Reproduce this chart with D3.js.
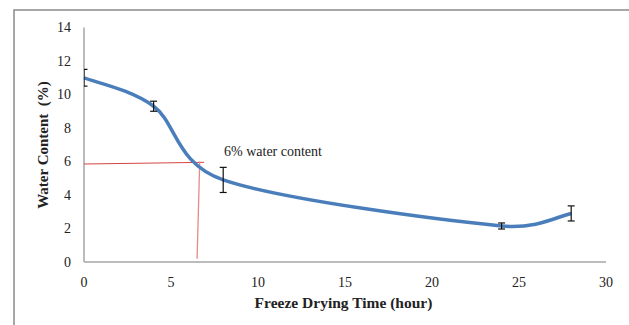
<!DOCTYPE html>
<html>
<head>
<meta charset="utf-8">
<script src="https://cdn.jsdelivr.net/npm/d3@7"></script>
<style>
  body { margin: 0; background: #fff; }
  svg { display: block; }
</style>
</head>
<body>
<script>
const width = 629, height = 325

// values
const hours = [0, 4, 8, 24, 28]
const water = [11.0, 9.3, 4.9, 2.15, 2.9]
const errs = [0.5, 0.3, 0.75, 0.18, 0.45]
const xTicks = [0, 5, 10, 15, 20, 25, 30]
const yTicks = [0, 2, 4, 6, 8, 10, 12, 14]
const guideH = [[0, 5.85], [6.9, 5.95]]
const guideV = [[6.65, 6.0], [6.5, 0.2]]
const noteText = '6% water content'

const x = d3.scaleLinear().domain([0, 30]).range([84, 606])
const y = d3.scaleLinear().domain([0, 14]).range([262, 27.5])

const pts = hours.map((h, i) => ({ h, v: water[i], e: errs[i] }))

// smoothed line the way the spreadsheet draws it: bezier segments,
// handles 1/6 of the neighbour chord, kept under half the segment
function smooth (p) {
  const path = d3.path()
  const dist = (a, b) => Math.hypot(b[0] - a[0], b[1] - a[1])
  path.moveTo(p[0][0], p[0][1])
  for (let i = 0; i < p.length - 1; i++) {
    const p0 = p[i - 1] || p[i], p1 = p[i], p2 = p[i + 1], p3 = p[i + 2] || p[i + 1]
    const d12 = dist(p1, p2), d02 = dist(p0, p2), d13 = dist(p1, p3)
    const f1 = d02 / 6 < d12 / 2 ? 1 / 6 : d12 / (2 * d02)
    const f2 = d13 / 6 < d12 / 2 ? 1 / 6 : d12 / (2 * d13)
    path.bezierCurveTo(
      p1[0] + f1 * (p2[0] - p0[0]), p1[1] + f1 * (p2[1] - p0[1]),
      p2[0] - f2 * (p3[0] - p1[0]), p2[1] - f2 * (p3[1] - p1[1]),
      p2[0], p2[1])
  }
  return path.toString()
}

const svg = d3.select('body').append('svg')
  .attr('width', width)
  .attr('height', height)
  .style('font-family', '"Liberation Serif", "Times New Roman", serif')

// outer frame (only top and left show)
svg.append('path')
  .attr('d', `M14,${height}V10H${width}`)
  .attr('fill', 'none')
  .attr('stroke', '#8a8a8a')
  .attr('stroke-width', 1.5)

// axes lines
svg.append('line')
  .attr('x1', x(0)).attr('x2', x(30))
  .attr('y1', y(0)).attr('y2', y(0))
  .attr('stroke', '#a6a6a6').attr('stroke-width', 1.5)
svg.append('line')
  .attr('x1', x(0)).attr('x2', x(0))
  .attr('y1', y(0)).attr('y2', y(14))
  .attr('stroke', '#a6a6a6').attr('stroke-width', 1.5)

svg.append('g').selectAll('text').data(yTicks).enter()
  .append('text')
  .attr('x', 71)
  .attr('y', d => y(d) + 4.8)
  .attr('text-anchor', 'end')
  .attr('font-size', 14)
  .attr('fill', '#222')
  .text(d => d)

svg.append('g').selectAll('text').data(xTicks).enter()
  .append('text')
  .attr('x', d => x(d))
  .attr('y', 287)
  .attr('text-anchor', 'middle')
  .attr('font-size', 14)
  .attr('fill', '#222')
  .text(d => d)

// red guide lines
const guide = d3.line().x(d => x(d[0])).y(d => y(d[1]))
svg.append('path').attr('d', guide(guideH))
  .attr('fill', 'none').attr('stroke', '#d64545').attr('stroke-width', 1)
svg.append('path').attr('d', guide(guideV))
  .attr('fill', 'none').attr('stroke', '#e58a8a').attr('stroke-width', 1.3)

// main curve
svg.append('path')
  .attr('d', smooth(pts.map(d => [x(d.h), y(d.v)])))
  .attr('fill', 'none')
  .attr('stroke', '#4a7ebb')
  .attr('stroke-width', 3.5)

// error bars, clipped at the value axis
svg.append('clipPath').attr('id', 'clip')
  .append('rect')
  .attr('x', x(0)).attr('y', 0)
  .attr('width', width - x(0)).attr('height', height)

const bars = svg.append('g')
  .attr('clip-path', 'url(#clip)')
  .attr('stroke', '#111')
  .attr('stroke-width', 1.2)
  .selectAll('g').data(pts).enter().append('g')

bars.append('line')
  .attr('x1', d => x(d.h)).attr('x2', d => x(d.h))
  .attr('y1', d => y(d.v + d.e)).attr('y2', d => y(d.v - d.e))
bars.append('line')
  .attr('x1', d => x(d.h) - 3.5).attr('x2', d => x(d.h) + 3.5)
  .attr('y1', d => y(d.v + d.e)).attr('y2', d => y(d.v + d.e))
bars.append('line')
  .attr('x1', d => x(d.h) - 3.5).attr('x2', d => x(d.h) + 3.5)
  .attr('y1', d => y(d.v - d.e)).attr('y2', d => y(d.v - d.e))

svg.append('text')
  .attr('x', 224)
  .attr('y', 155.5)
  .attr('font-size', 14)
  .attr('fill', '#222')
  .text(noteText)

svg.append('text')
  .attr('transform', `translate(48,145) rotate(-90)`)
  .attr('text-anchor', 'middle')
  .attr('font-size', 15)
  .attr('font-weight', 'bold')
  .attr('fill', '#222')
  .style('white-space', 'pre')
  .text('Water Content  (%)')

svg.append('text')
  .attr('x', 343.5)
  .attr('y', 308)
  .attr('text-anchor', 'middle')
  .attr('font-size', 15.5)
  .attr('font-weight', 'bold')
  .attr('fill', '#222')
  .text('Freeze Drying Time (hour)')
</script>
</body>
</html>
